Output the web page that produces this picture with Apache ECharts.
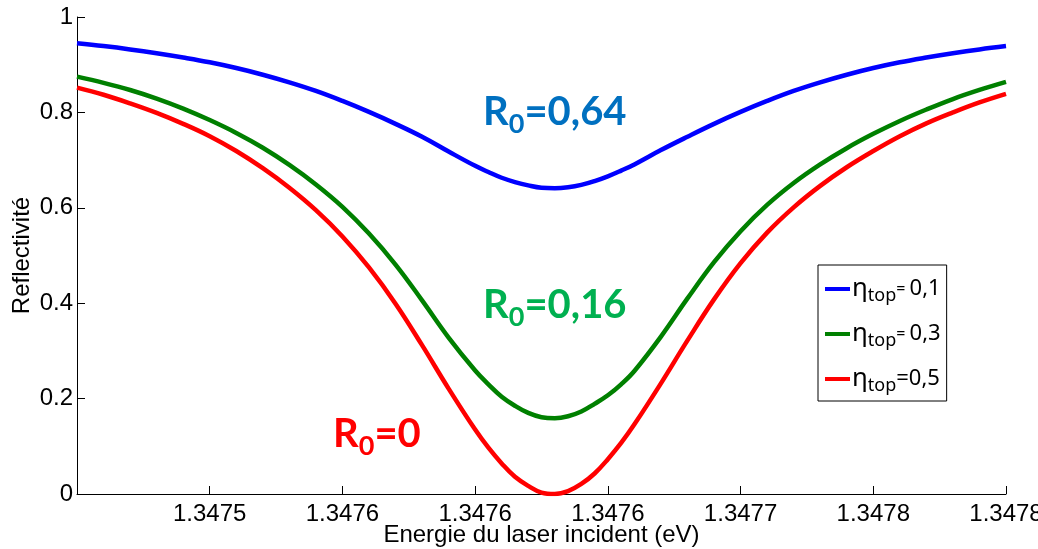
<!DOCTYPE html>
<html>
<head>
<meta charset="utf-8">
<script src="https://cdn.jsdelivr.net/npm/echarts@6/dist/echarts.min.js"></script>
<style>
html,body{margin:0;padding:0;background:#fff;}
#chart{width:1038px;height:549px;}
</style>
</head>
<body>
<div id="chart"></div>
<script>
// Energy values (eV)
var energies = [
  1.34745,1.34746,1.34747,1.34748,1.34749,1.34750,1.34751,1.34752,1.34753,1.34754,
  1.34755,1.34756,1.34757,1.34758,1.34759,1.34760,1.347605,1.34761,1.347615,1.34762,
  1.347625,1.34763,1.347635,1.34764,1.347645,1.34765,1.347655,1.34766,1.34767,1.34768,
  1.34769,1.34770,1.34771,1.34772,1.34773,1.34774,1.34775,1.34776,1.34777,1.34778,
  1.34779,1.34780
];
// Reflectivity, eta_top = 0,1 (blue)
var reflBlue = [
  0.945,0.939,0.932,0.924,0.915,0.905,0.893,0.879,0.863,0.845,
  0.824,0.801,0.776,0.749,0.718,0.688,0.675,0.663,0.654,0.647,
  0.642,0.641,0.643,0.648,0.656,0.666,0.678,0.691,0.721,0.749,
  0.776,0.801,0.824,0.845,0.863,0.879,0.893,0.905,0.915,0.924,
  0.932,0.939
];
// Reflectivity, eta_top = 0,3 (green)
var reflGreen = [
  0.875,0.862,0.847,0.829,0.808,0.784,0.757,0.726,0.690,0.649,
  0.602,0.546,0.481,0.406,0.328,0.259,0.230,0.204,0.185,0.170,
  0.161,0.159,0.163,0.173,0.189,0.207,0.230,0.258,0.330,0.410,
  0.486,0.551,0.606,0.652,0.691,0.725,0.755,0.782,0.806,0.828,
  0.847,0.864
];
// Reflectivity, eta_top = 0,5 (red)
var reflRed = [
  0.852,0.837,0.819,0.799,0.776,0.750,0.719,0.683,0.642,0.595,
  0.540,0.475,0.399,0.312,0.221,0.135,0.097,0.064,0.036,0.017,
  0.003,0.000,0.006,0.021,0.043,0.073,0.107,0.146,0.232,0.322,
  0.408,0.484,0.548,0.601,0.646,0.685,0.719,0.750,0.777,0.800,
  0.821,0.839
];
var seriesNames = ['eta01','eta03','eta05'];
var legendLabels = {
  eta01: '{eta|η}{sub|top}{eq|= }{val|0,1}',
  eta03: '{eta|η}{sub|top}{eq|= }{val|0,3}',
  eta05: '{eta|η}{sub|top}{val|=0,5}'
};
var xTickLabels = ['', '1.3475', '1.3476', '1.3476', '1.3476', '1.3477', '1.3478', '1.3478'];
var yTickLabels = ['0', '0.2', '0.4', '0.6', '0.8', '1'];
var xMin = 1.34745, xMax = 1.34780, xInterval = 0.00005;
// Annotations: [energy, reflectivity, value text]
var annoBlue = [1.34763, 0.800, '0,64'];
var annoGreen = [1.34763, 0.396, '0,16'];
var annoRed = [1.347563, 0.125, '0'];

function pairs(ys){ return energies.map(function(x,i){ return [x, ys[i]]; }); }

function annoMark(a, color){
  return {
    symbol: 'circle', symbolSize: 1, silent: true,
    itemStyle: {color: 'rgba(0,0,0,0)'},
    label: {
      show: true, position: 'inside',
      formatter: '{r|R}{s|0}{r|=' + a[2] + '}',
      rich: {
        r: {fontFamily: 'Lato', fontWeight: 'bold', fontSize: 40, color: color, lineHeight: 44},
        s: {fontFamily: 'Lato', fontWeight: 'bold', fontSize: 27, color: color, lineHeight: 27, padding: [24,0,0,0]}
      }
    },
    data: [{coord: [a[0], a[1]]}]
  };
}

var chart = echarts.init(document.getElementById('chart'), null, {renderer: 'canvas'});
var axisFont = 'Liberation Sans, Arial, sans-serif';
var legendFont = 'Noto Sans, Open Sans, sans-serif';
chart.setOption({
  animation: false,
  backgroundColor: '#ffffff',
  grid: {left: 77, right: 32, top: 17, bottom: 55, containLabel: false, outerBoundsMode: 'none'},
  xAxis: {
    type: 'value', min: xMin, max: xMax, interval: xInterval,
    name: 'Energie du laser incident (eV)', nameLocation: 'middle', nameGap: 29, nameMoveOverlap: false,
    nameTextStyle: {fontFamily: axisFont, fontSize: 24, color: '#000'},
    axisLine: {show: true, onZero: false, lineStyle: {color: '#000', width: 1}},
    axisTick: {show: true, inside: true, length: 8, lineStyle: {color: '#000'}},
    axisLabel: {
      fontFamily: axisFont, fontSize: 24, color: '#000', margin: 8,
      showMinLabel: true, showMaxLabel: true, hideOverlap: false,
      formatter: function(v){ var i = Math.round((v - xMin)/xInterval); return xTickLabels[i] || ''; }
    },
    splitLine: {show: false}
  },
  yAxis: {
    type: 'value', min: 0, max: 1, interval: 0.2,
    name: 'Reflectivité', nameLocation: 'middle', nameGap: 43, nameRotate: 90, nameMoveOverlap: false,
    nameTextStyle: {fontFamily: axisFont, fontSize: 24, color: '#000'},
    axisLine: {show: true, lineStyle: {color: '#000', width: 1}},
    axisTick: {show: true, inside: true, length: 8, lineStyle: {color: '#000'}},
    axisLabel: {
      fontFamily: axisFont, fontSize: 24, color: '#000', margin: 4,
      formatter: function(v){ return yTickLabels[Math.round(v/0.2)]; }
    },
    splitLine: {show: false}
  },
  legend: {
    orient: 'vertical', left: 818, top: 265,
    padding: [8, 6, 6, 7],
    borderColor: '#000', borderWidth: 1, backgroundColor: '#fff',
    icon: 'rect', itemWidth: 25, itemHeight: 4, itemGap: 13,
    data: seriesNames,
    formatter: function(n){ return legendLabels[n]; },
    textStyle: {
      padding: [0,0,0,-3],
      rich: {
        eta: {fontFamily: legendFont, fontSize: 26, lineHeight: 30, color: '#000'},
        sub: {fontFamily: legendFont, fontSize: 18, lineHeight: 18, color: '#000', padding: [14,0,0,0]},
        eq: {fontFamily: legendFont, fontSize: 16, lineHeight: 30, color: '#000'},
        val: {fontFamily: legendFont, fontSize: 22, lineHeight: 30, color: '#000'}
      }
    }
  },
  series: [
    {name: 'eta01', type: 'line', data: pairs(reflBlue), smooth: 0.4, symbol: 'none',
     lineStyle: {color: '#0000ff', width: 4.5}, itemStyle: {color: '#0000ff'},
     markPoint: annoMark(annoBlue, '#0070c0')},
    {name: 'eta03', type: 'line', data: pairs(reflGreen), smooth: 0.4, symbol: 'none',
     lineStyle: {color: '#008000', width: 4.5}, itemStyle: {color: '#008000'},
     markPoint: annoMark(annoGreen, '#00b050')},
    {name: 'eta05', type: 'line', data: pairs(reflRed), smooth: 0.4, symbol: 'none',
     lineStyle: {color: '#ff0000', width: 4.5}, itemStyle: {color: '#ff0000'},
     markPoint: annoMark(annoRed, '#ff0000')}
  ]
});
</script>
</body>
</html>
